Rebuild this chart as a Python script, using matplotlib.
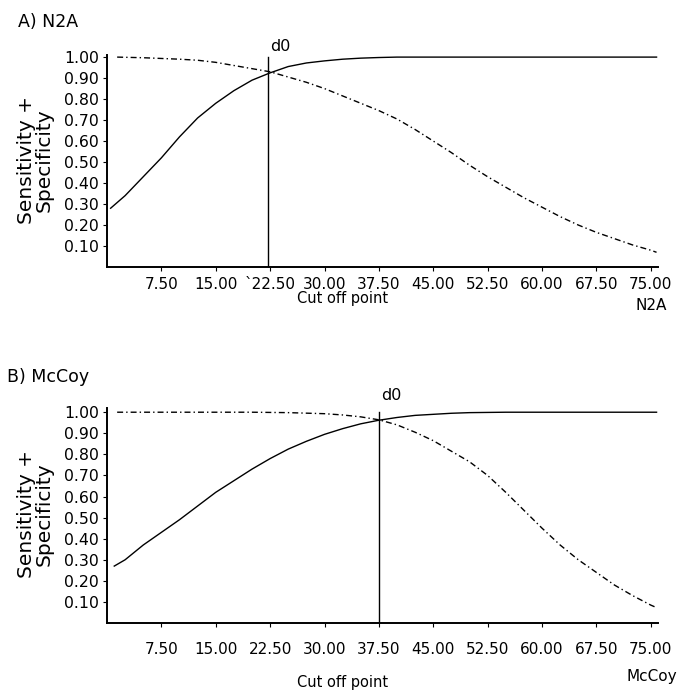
import numpy as np
import matplotlib.pyplot as plt

plt.rcParams['font.family'] = ['DejaVu Sans']

# ---- data ----
x_ticks = [7.5, 15.0, 22.5, 30.0, 37.5, 45.0, 52.5, 60.0, 67.5, 75.0]
y_ticks = [0.1, 0.2, 0.3, 0.4, 0.5, 0.6, 0.7, 0.8, 0.9, 1.0]
x_labels_a = ["7.50", "15.00", "`22.50", "30.00", "37.50", "45.00",
              "52.50", "60.00", "67.50", "75.00"]
x_labels_b = ["7.50", "15.00", "22.50", "30.00", "37.50", "45.00",
              "52.50", "60.00", "67.50", "75.00"]

# A) N2A
a_sens_x = [0.5, 2.5, 5, 7.5, 10, 12.5, 15, 17.5, 20, 22.5, 25, 27.5, 30,
            32.5, 35, 37.5, 40, 50, 60, 75.8]
a_sens_y = [0.28, 0.34, 0.43, 0.52, 0.62, 0.71, 0.78, 0.84, 0.89, 0.925,
            0.955, 0.972, 0.982, 0.99, 0.995, 0.998, 1.0, 1.0, 1.0, 1.0]
a_spec_x = [1.4, 5, 10, 12.5, 15, 17.5, 20, 22.5, 25, 27.5, 30, 32.5, 35,
            37.5, 40, 42.5, 45, 47.5, 50, 52.5, 55, 57.5, 60, 62.5, 65,
            67.5, 70, 72.5, 75, 75.8]
a_spec_y = [1.0, 0.997, 0.99, 0.985, 0.975, 0.96, 0.945, 0.93, 0.905, 0.88,
            0.85, 0.815, 0.78, 0.745, 0.705, 0.655, 0.6, 0.545, 0.485, 0.43,
            0.38, 0.33, 0.285, 0.24, 0.2, 0.165, 0.135, 0.105, 0.08, 0.07]
a_d0 = 22.2

# B) McCoy
b_sens_x = [1.0, 2.5, 5, 7.5, 10, 12.5, 15, 17.5, 20, 22.5, 25, 27.5, 30,
            32.5, 35, 37.5, 40, 42.5, 45, 47.5, 50, 55, 60, 75.8]
b_sens_y = [0.27, 0.3, 0.37, 0.43, 0.49, 0.555, 0.62, 0.675, 0.73, 0.78,
            0.825, 0.862, 0.895, 0.922, 0.945, 0.962, 0.975, 0.985, 0.99,
            0.995, 0.998, 1.0, 1.0, 1.0]
b_spec_x = [1.4, 10, 20, 25, 30, 32.5, 35, 37.5, 40, 42.5, 45, 47.5, 50,
            52.5, 55, 57.5, 60, 62.5, 65, 67.5, 70, 72.5, 75, 75.8]
b_spec_y = [1.0, 1.0, 1.0, 0.998, 0.993, 0.987, 0.978, 0.964, 0.94, 0.905,
            0.865, 0.815, 0.765, 0.7, 0.62, 0.535, 0.45, 0.37, 0.3, 0.24,
            0.18, 0.13, 0.085, 0.073]
b_d0 = 37.5

W, H = 682, 691
fig = plt.figure(figsize=(W / 100, H / 100), dpi=100)

dashdot = (0, (4.3, 2.2, 1.0, 2.2))


def make_panel(rect, sx, sy, px, py, d0, xlabels, ymax, d0_y, xpad):
    ax = fig.add_axes(rect)
    ax.plot(sx, sy, color='black', lw=1.0)
    ax.plot(px, py, color='black', lw=1.0, linestyle=dashdot)
    ax.plot([d0, d0], [0, 1.0], color='black', lw=1.0)
    ax.text(d0 + 0.3, d0_y, "d0", fontsize=11.5, ha='left', va='center',
            clip_on=False)
    ax.set_xlim(0, 76)
    ax.set_ylim(0, ymax)
    ax.set_xticks(x_ticks)
    ax.set_xticklabels(xlabels)
    ax.set_yticks(y_ticks)
    ax.set_yticklabels(["%.2f" % v for v in y_ticks])
    for s in ['top', 'right']:
        ax.spines[s].set_visible(False)
    for s in ['left', 'bottom']:
        ax.spines[s].set_linewidth(1.4)
    ax.tick_params(axis='both', direction='out', length=3, width=0.8,
                   labelsize=11)
    ax.tick_params(axis='y', pad=3, labelsize=11.3)
    ax.tick_params(axis='x', pad=xpad)
    return ax


def fx(px):
    return px / W


def fy(py):
    return 1 - py / H


# top panel: axis from x=107..658 px, y=55..267 px
make_panel([fx(107), fy(267), fx(658) - fx(107), fy(55) - fy(267)],
           a_sens_x, a_sens_y, a_spec_x, a_spec_y, a_d0, x_labels_a,
           1.01, 1.05, 4.5)
# bottom panel: axis from y=408..623 px
make_panel([fx(107), fy(623), fx(658) - fx(107), fy(408) - fy(623)],
           b_sens_x, b_sens_y, b_spec_x, b_spec_y, b_d0, x_labels_b,
           1.02, 1.08, 10.5)

fig.text(fx(18), fy(22), "A) N2A", fontsize=12.5, ha='left', va='center')
fig.text(fx(7), fy(377), "B) McCoy", fontsize=12.5, ha='left', va='center')

ylab = "Sensitivity +\nSpecificity"
fig.text(fx(35), fy(160), ylab, fontsize=14.5, rotation=90,
         ha='center', va='center', multialignment='center', linespacing=0.9)
fig.text(fx(35), fy(514), ylab, fontsize=14.5, rotation=90,
         ha='center', va='center', multialignment='center', linespacing=0.9)

fig.text(fx(343), fy(299), "Cut off point", fontsize=10.5, ha='center',
         va='center')
fig.text(fx(343), fy(683), "Cut off point", fontsize=10.5, ha='center',
         va='center')
fig.text(fx(651), fy(305), "N2A", fontsize=11, ha='center', va='center')
fig.text(fx(652), fy(676), "McCoy", fontsize=11, ha='center', va='center')

fig.savefig("out.png", dpi=100)
